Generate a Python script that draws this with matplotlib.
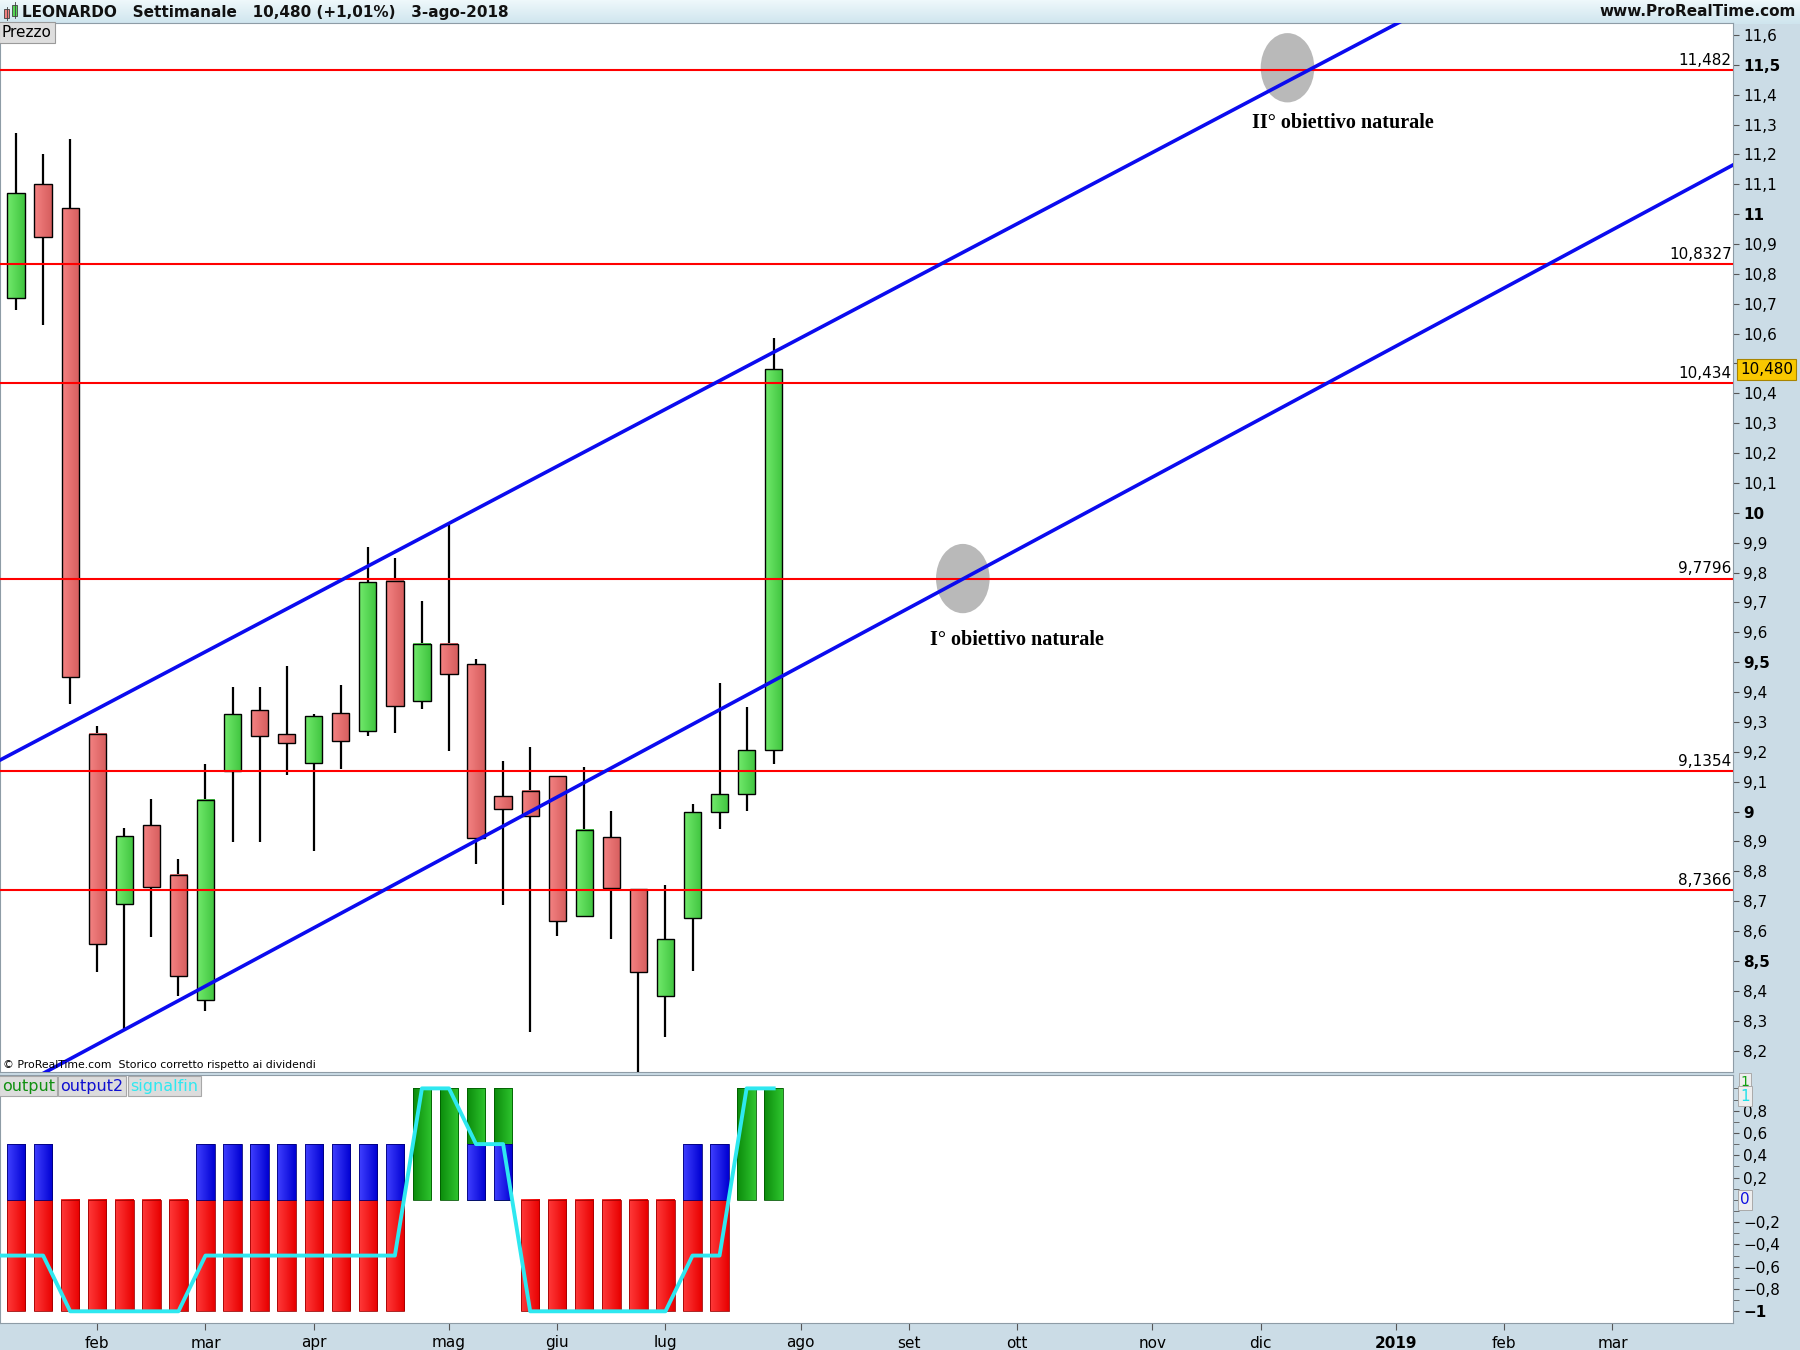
import numpy as np
import matplotlib.pyplot as plt
import matplotlib.colors as mcolors
import matplotlib.transforms as mtransforms
from matplotlib.patches import Rectangle, Ellipse
from matplotlib.ticker import FixedLocator, FixedFormatter

plt.rcParams['font.family'] = ['DejaVu Sans']

# weekly candles, LEONARDO, weeks from 15-gen-2018 to 30-lug-2018
weeks = list(range(29))
opens = [10.72, 11.10, 11.02, 9.26, 8.692, 8.956, 8.789, 8.368, 9.137, 9.340,
         9.260, 9.163, 9.330, 9.271, 9.773, 9.370, 9.562, 9.494, 9.052, 9.068,
         9.118, 8.650, 8.914, 8.741, 8.383, 8.644, 9.000, 9.060, 9.206]
highs = [11.27, 11.20, 11.25, 9.285, 8.944, 9.041, 8.840, 9.158, 9.416, 9.416,
         9.488, 9.325, 9.422, 9.885, 9.850, 9.706, 9.960, 9.511, 9.170, 9.216,
         9.120, 9.148, 9.001, 8.741, 8.753, 9.024, 9.432, 9.349, 10.585]
lows = [10.68, 10.63, 9.36, 8.464, 8.269, 8.581, 8.383, 8.333, 8.898, 8.898,
        9.124, 8.868, 9.142, 9.253, 9.262, 9.344, 9.203, 8.826, 8.688, 8.261,
        8.582, 8.650, 8.574, 8.12, 8.244, 8.465, 8.940, 9.001, 9.159]
closes = [11.07, 10.925, 9.45, 8.555, 8.919, 8.749, 8.449, 9.040, 9.327, 9.253,
          9.230, 9.320, 9.237, 9.768, 9.352, 9.562, 9.459, 8.912, 9.010, 8.984,
          8.634, 8.938, 8.745, 8.464, 8.573, 8.998, 9.058, 9.206, 10.480]

levels = [11.482, 10.8327, 10.434, 9.7796, 9.1354, 8.7366]
level_labels = ['11,482', '10,8327', '10,434', '9,7796', '9,1354', '8,7366']

# trendline anchor points (week index, price)
upper_trend_x = [-0.6, 47.77]
upper_trend_y = [9.172, 11.482]
lower_trend_x = [3.99, 48.37]
lower_trend_y = [8.269, 10.43]

target_x = [34.99, 46.99]
target_y = [9.78, 11.49]
target_labels = ['I° obiettivo naturale', 'II° obiettivo naturale']
target_text_x = [33.77, 45.67]
target_text_y = [9.575, 11.305]

month_pos = [3, 7, 11, 16, 20, 24, 29, 33, 37, 42, 46, 51, 55, 59]
month_labels = ['feb', 'mar', 'apr', 'mag', 'giu', 'lug', 'ago', 'set', 'ott',
                'nov', 'dic', '2019', 'feb', 'mar']

# indicator panel
output = [-1, -1, -1, -1, -1, -1, -1, -1, -1, -1, -1, -1, -1, -1, -1,
          1, 1, 1, 1, -1, -1, -1, -1, -1, -1, -1, -1, 1, 1]
output2 = [0.5, 0.5, 0, 0, 0, 0, 0, 0.5, 0.5, 0.5, 0.5, 0.5, 0.5, 0.5, 0.5,
           0, 0, 0.5, 0.5, 0, 0, 0, 0, 0, 0, 0.5, 0.5, 0, 0]
signal_weeks = list(range(-1, 29))
signalfin = [-0.5, -0.5, -0.5, -1, -1, -1, -1, -1, -0.5, -0.5, -0.5, -0.5, -0.5,
             -0.5, -0.5, -0.5, 1, 1, 0.5, 0.5, -1, -1, -1, -1, -1, -1, -0.5, -0.5,
             1, 1]

last_price = 10.48
XMIN, XMAX = -0.594, 63.47
BG = '#cbdce6'
EDGE = '#8e9ca6'


def grad_box(ax, x0, x1, y0, y1, c_left, c_right, edge, lw, z):
    t = np.linspace(0, 1, 40)[None, :, None]
    a = np.array(mcolors.to_rgb(c_left))[None, None, :]
    b = np.array(mcolors.to_rgb(c_right))[None, None, :]
    img = (1 - t) * a + t * b
    ax.imshow(img, extent=(x0, x1, y0, y1), aspect='auto',
              interpolation='bilinear', zorder=z)
    ax.add_patch(Rectangle((x0, y0), x1 - x0, y1 - y0, fill=False, ec=edge,
                           lw=lw, zorder=z + 0.1))


fig = plt.figure(figsize=(18, 13.5), dpi=100, facecolor=BG)

# ---- header bar
axh = fig.add_axes([0, 1 - 24 / 1350, 1, 24 / 1350])
hg = np.linspace(0, 1, 20)[:, None, None]
hcol = (1 - hg) * np.array(mcolors.to_rgb('#eef8fb')) + hg * np.array(mcolors.to_rgb('#cfe5ee'))
axh.imshow(hcol, extent=(0, 1800, 0, 24), aspect='auto')
axh.set_xlim(0, 1800)
axh.set_ylim(0, 24)
axh.axis('off')
axh.add_patch(Rectangle((4, 6), 5, 9, fc='#f08080', ec='#404040', lw=0.6))
axh.plot([6.5, 6.5], [4, 17], color='#404040', lw=0.6)
axh.add_patch(Rectangle((12, 8), 5, 11, fc='#55d655', ec='#404040', lw=0.6))
axh.plot([14.5, 14.5], [6, 22], color='#404040', lw=0.6)
axh.text(22, 12, 'LEONARDO   Settimanale   10,480 (+1,01%)   3-ago-2018',
         va='center', ha='left', fontsize=11, fontweight='bold', color='#111111')
axh.text(1796, 12, 'www.ProRealTime.com', va='center', ha='right',
         fontsize=11, fontweight='bold', color='#111111')

# ---- price panel
ax = fig.add_axes([0, 0.2059, 0.963, 0.983 - 0.2059])
ax.set_facecolor('white')
w = 0.64
for i, o, h, l, c in zip(weeks, opens, highs, lows, closes):
    ax.plot([i, i], [l, h], color='black', lw=1.6, zorder=3, solid_capstyle='butt')
    lo, hi = min(o, c), max(o, c)
    if c >= o:
        grad_box(ax, i - w / 2, i + w / 2, lo, hi, '#72ea6c', '#3fc43f', 'black', 1.0, 4)
    else:
        grad_box(ax, i - w / 2, i + w / 2, lo, hi, '#f48282', '#d65e5e', 'black', 1.0, 4)

for tx, ty in zip(target_x, target_y):
    ax.add_patch(Ellipse((tx, ty), 1.98, 0.232, fc='#b9b9b9', ec='none', zorder=1))

trans = mtransforms.blended_transform_factory(ax.transAxes, ax.transData)
for lev, lab in zip(levels, level_labels):
    ax.axhline(lev, color='#ff0000', lw=1.5, zorder=5)
    ax.text(0.999, lev + 0.008, lab, transform=trans, ha='right', va='bottom',
            fontsize=11, zorder=6)

xs = np.array([XMIN - 1, XMAX + 1])
for tx, ty in [(upper_trend_x, upper_trend_y), (lower_trend_x, lower_trend_y)]:
    k = (ty[1] - ty[0]) / (tx[1] - tx[0])
    ax.plot(xs, ty[0] + k * (xs - tx[0]), color='#0b0bef', lw=2.6, zorder=6)

for lab, x0, y0 in zip(target_labels, target_text_x, target_text_y):
    ax.text(x0, y0, lab, ha='left', va='center', fontsize=14.5, fontweight='bold',
            family=['Liberation Serif', 'DejaVu Serif'], zorder=7)

ax.set_xlim(XMIN, XMAX)
ax.set_ylim(8.128, 11.64)
ax.set_xticks([])
ticks = [round(8.2 + 0.1 * k, 1) for k in range(35)]
# the 10,5 label sits under the last-price box, as in the original
tick_labels = ['' if abs(t - 10.5) < 1e-6 else ('%g' % t).replace('.', ',') for t in ticks]
ax.yaxis.set_major_locator(FixedLocator(ticks))
ax.yaxis.set_major_formatter(FixedFormatter(tick_labels))
ax.tick_params(axis='y', left=False, right=True, labelleft=False, labelright=True,
               direction='out', length=4, pad=3, labelsize=11, color='#555555')
for t, lbl in zip(ticks, ax.get_yticklabels()):
    if abs(t * 2 - round(t * 2)) < 1e-6:
        lbl.set_fontweight('bold')
for s in ax.spines.values():
    s.set_color(EDGE)

ax.text(1.004, last_price, '10,480', transform=trans, ha='left', va='center',
        fontsize=11, zorder=10, clip_on=False,
        bbox=dict(boxstyle='square,pad=0.2', fc='#f8c800', ec='#a88400', lw=0.8))
ax.text(0.001, 0.998, 'Prezzo', transform=ax.transAxes, ha='left', va='top',
        fontsize=11, zorder=10,
        bbox=dict(boxstyle='square,pad=0.2', fc='#dedede', ec='#9a9a9a', lw=0.8))
ax.text(0.002, 0.002, '© ProRealTime.com  Storico corretto rispetto ai dividendi',
        transform=ax.transAxes, ha='left', va='bottom', fontsize=7.8, zorder=10)

# ---- indicator panel
ax2 = fig.add_axes([0, 0.02, 0.963, 0.2037 - 0.02])
ax2.set_facecolor('white')
bw = 0.68
for i, v in zip(weeks, output):
    if v < 0:
        grad_box(ax2, i - bw / 2, i + bw / 2, v, 0, '#ff3a3a', '#e80000', '#a00000', 0.6, 3)
    elif v > 0:
        grad_box(ax2, i - bw / 2, i + bw / 2, 0, v, '#0b8c0b', '#2fc42f', '#005a00', 0.6, 3)
for i, v in zip(weeks, output2):
    if v != 0:
        grad_box(ax2, i - bw / 2, i + bw / 2, 0, v, '#4040ff', '#0000d2', '#00007a', 0.6, 4)
ax2.plot(signal_weeks, signalfin, color='#2ee8f0', lw=2.8, zorder=6)

ax2.set_xlim(XMIN, XMAX)
ax2.set_ylim(-1.105, 1.12)
ind_ticks = [-1, -0.8, -0.6, -0.4, -0.2, 0.2, 0.4, 0.6, 0.8]
ind_labels = ['−1', '−0,8', '−0,6', '−0,4', '−0,2', '0,2', '0,4', '0,6', '0,8']
ax2.yaxis.set_major_locator(FixedLocator(ind_ticks))
ax2.yaxis.set_major_formatter(FixedFormatter(ind_labels))
ax2.yaxis.set_minor_locator(FixedLocator([round(-1 + 0.1 * k, 1) for k in range(21)]))
ax2.tick_params(axis='y', which='both', left=False, right=True, labelleft=False,
                labelright=True, direction='out', length=4, pad=3, labelsize=11,
                color='#555555')
ax2.get_yticklabels()[0].set_fontweight('bold')
ax2.set_xticks(month_pos, month_labels)
ax2.tick_params(axis='x', direction='out', length=5, pad=4, labelsize=11,
                color='#555555')
for lbl in ax2.get_xticklabels():
    if lbl.get_text() == '2019':
        lbl.set_fontweight('bold')
for s in ax2.spines.values():
    s.set_color(EDGE)

trans2 = mtransforms.blended_transform_factory(ax2.transAxes, ax2.transData)
ax2.text(1.004, 1.06, '1', transform=trans2, ha='left', va='center', fontsize=10,
         color='#10a010', clip_on=False, zorder=9,
         bbox=dict(boxstyle='square,pad=0.1', fc='#eeeeee', ec='#aaaaaa', lw=0.7))
ax2.text(1.004, 0.93, '1', transform=trans2, ha='left', va='center', fontsize=11,
         color='#20e0e8', clip_on=False, zorder=10,
         bbox=dict(boxstyle='square,pad=0.15', fc='#eeeeee', ec='#aaaaaa', lw=0.7))
ax2.text(1.004, 0, '0', transform=trans2, ha='left', va='center', fontsize=11,
         color='#1010e0', clip_on=False, zorder=10,
         bbox=dict(boxstyle='square,pad=0.15', fc='#eeeeee', ec='#aaaaaa', lw=0.7))

leg_x = [0.001, 0.0348, 0.0752]
for x0, lab, col in zip(leg_x, ['output', 'output2', 'signalfin'],
                        ['#109010', '#1010d0', '#30e8f0']):
    ax2.text(x0, 0.985, lab, transform=ax2.transAxes, ha='left', va='top',
             fontsize=11.5, color=col, zorder=10,
             bbox=dict(boxstyle='square,pad=0.15', fc='#dcdcdc', ec='#a8a8a8', lw=0.8))

fig.savefig('out.png', dpi=100, facecolor=BG)
